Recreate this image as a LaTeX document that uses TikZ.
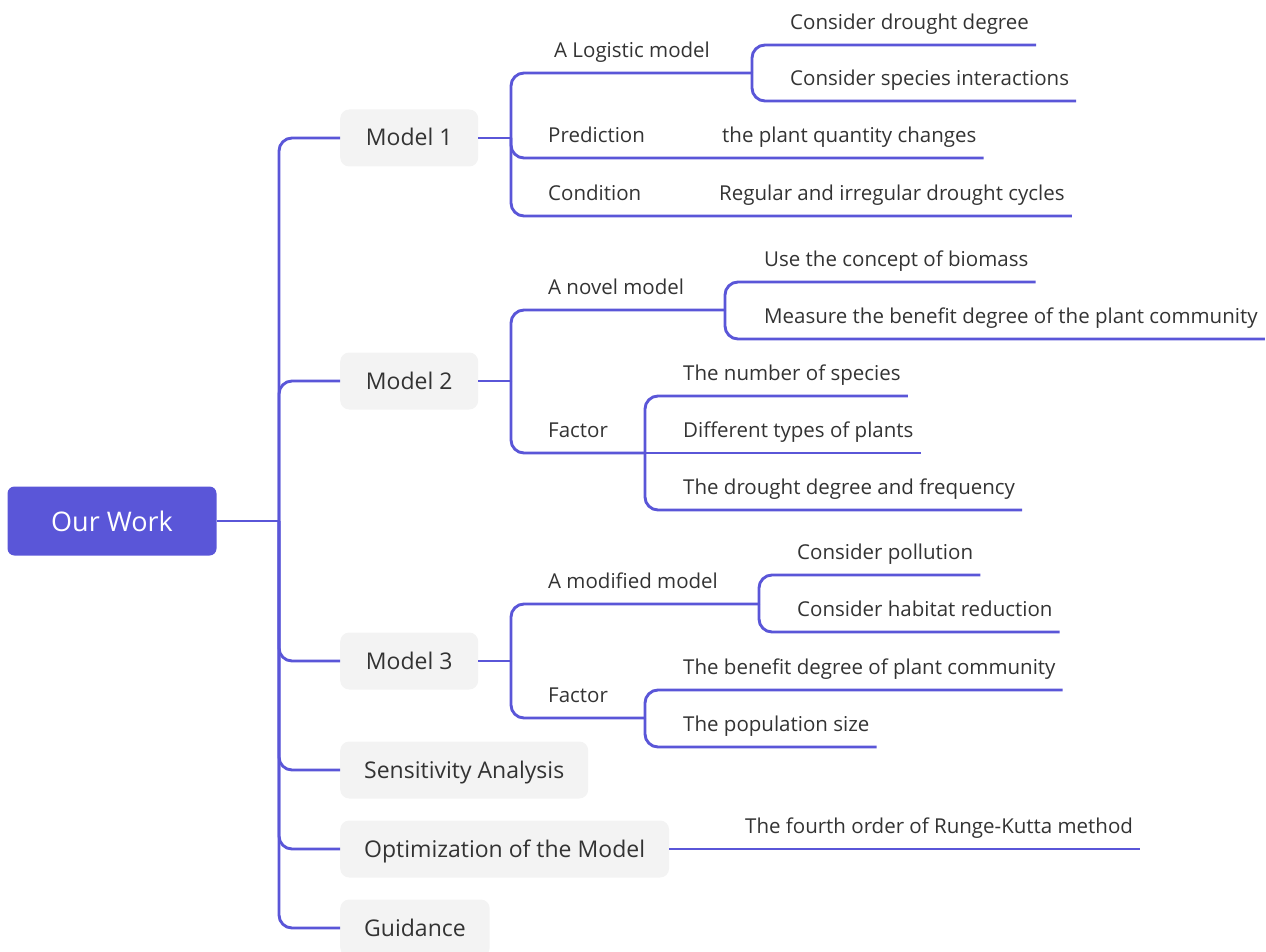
\documentclass[tikz,border=0pt]{standalone}
\usepackage{fontspec}
\setmainfont{Open Sans}
\usepackage{xcolor}
\definecolor{workblue}{HTML}{5A56D8}
\definecolor{topicgray}{HTML}{F3F3F3}
\definecolor{inkgray}{HTML}{333333}

\begin{document}
\begin{tikzpicture}[x=1pt,y=-1pt,
  link/.style={draw=workblue, line width=2.9pt, rounded corners=13pt},
  rootbox/.style={fill=workblue, text=white, rounded corners=7pt, minimum width=209pt, minimum height=69pt, font=\fontsize{27}{32}\selectfont},
  topic/.style={fill=topicgray, text=inkgray, rounded corners=9pt, anchor=west, minimum height=57pt, inner xsep=24pt, text height=18pt, text depth=2pt, font=\fontsize{23}{27}\selectfont},
  leaf/.style={anchor=south west, text=inkgray, inner xsep=7pt, inner ysep=0pt, text height=15pt, text depth=15pt, font=\fontsize{20.5}{24}\selectfont}]
\useasboundingbox (0,0) rectangle (1266,952);
\node[rootbox] (root) at (112,521) {Our Work};
\coordinate (rootfork) at (279,521);
\node[topic, minimum width=138pt] (m1) at (340,138) {Model 1};
\node[topic, minimum width=138pt] (m2) at (340,381) {Model 2};
\node[topic, minimum width=138pt] (m3) at (340,661) {Model 3};
\node[topic] (sens) at (340,770) {Sensitivity Analysis};
\node[topic] (opt) at (340,849) {Optimization of the Model};
\node[topic] (guide) at (340,928) {Guidance};
\draw[link] (root.east) -- (rootfork);
\foreach \t in {m1,m2,m3,sens,opt,guide}
  \draw[link] (rootfork) |- (\t.west);
% model 1
\coordinate (m1fork) at (511,138);
\node[leaf] (logi) at (547,73) {A Logistic model};
\coordinate (logifork) at (752,73);
\node[leaf] (cdd) at (783,45) {Consider drought degree};
\node[leaf] (csi) at (783,101) {Consider species interactions};
\node[leaf] (pred) at (541,158) {Prediction};
\node[leaf] (pqc) at (715,158) {the plant quantity changes};
\node[leaf] (cond) at (541,216) {Condition};
\node[leaf] (rdc) at (712,216) {Regular and irregular drought cycles};
\draw[link] (m1.east) -- (m1fork);
\draw[link] (m1fork) |- (logi.south east) -- (logifork);
\draw[link] (logifork) |- (cdd.south east);
\draw[link] (logifork) |- (csi.south east);
\draw[link] (m1fork) |- (pred.south east) -- (pqc.south east);
\draw[link] (m1fork) |- (cond.south east) -- (rdc.south east);
% model 2
\coordinate (m2fork) at (511,381);
\node[leaf] (novel) at (541,310) {A novel model};
\coordinate (novelfork) at (725,310);
\node[leaf] (bio) at (757,282) {Use the concept of biomass};
\node[leaf] (mbd) at (757,339) {Measure the benefit degree of the plant community};
\node[leaf] (fac2) at (541,453) {Factor};
\coordinate (fac2fork) at (645,453);
\node[leaf] (nsp) at (676,396) {The number of species};
\node[leaf] (dtp) at (676,453) {Different types of plants};
\node[leaf] (ddf) at (676,510) {The drought degree and frequency};
\draw[link] (m2.east) -- (m2fork);
\draw[link] (m2fork) |- (novel.south east) -- (novelfork);
\draw[link] (novelfork) |- (bio.south east);
\draw[link] (novelfork) |- (mbd.south east);
\draw[link] (m2fork) |- (fac2.south east) -- (fac2fork);
\draw[link] (fac2fork) |- (nsp.south east);
\draw[link] (fac2fork) -- (dtp.south east);
\draw[link] (fac2fork) |- (ddf.south east);
% model 3
\coordinate (m3fork) at (511,661);
\node[leaf] (modi) at (541,604) {A modified model};
\coordinate (modifork) at (759,604);
\node[leaf] (pol) at (790,575) {Consider pollution};
\node[leaf] (hab) at (790,632) {Consider habitat reduction};
\node[leaf] (fac3) at (541,718) {Factor};
\coordinate (fac3fork) at (645,718);
\node[leaf] (bdc) at (676,690) {The benefit degree of plant community};
\node[leaf] (pop) at (676,747) {The population size};
\draw[link] (m3.east) -- (m3fork);
\draw[link] (m3fork) |- (modi.south east) -- (modifork);
\draw[link] (modifork) |- (pol.south east);
\draw[link] (modifork) |- (hab.south east);
\draw[link] (m3fork) |- (fac3.south east) -- (fac3fork);
\draw[link] (fac3fork) |- (bdc.south east);
\draw[link] (fac3fork) |- (pop.south east);
% optimization
\node[leaf] (rk) at (738,849) {The fourth order of Runge-Kutta method};
\draw[link] (opt.east) -- (rk.south east);
\end{tikzpicture}
\end{document}
